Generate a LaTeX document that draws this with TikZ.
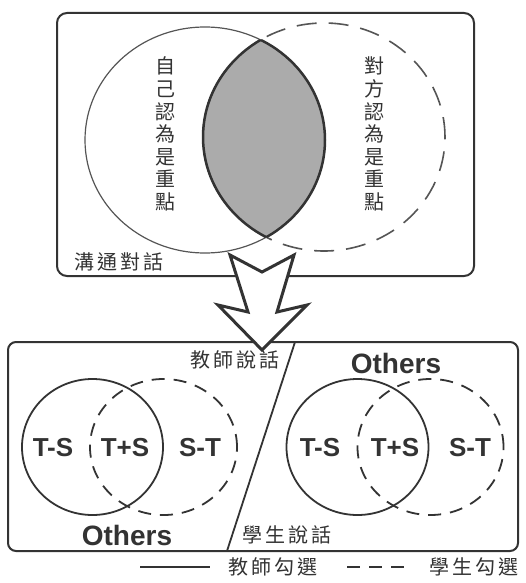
\documentclass[tikz,border=0pt]{standalone}
\usepackage{fontspec}
\setmainfont{Liberation Sans}
\newfontfamily\cjk{Noto Sans CJK TC}
\definecolor{ink}{HTML}{333333}
\definecolor{soft}{HTML}{555555}
\definecolor{lensgray}{HTML}{ABABAB}
\newcommand\gap{\hspace{3pt}}
\begin{document}
\begin{tikzpicture}[x=1pt,y=-1pt,
  box/.style={draw=ink, line width=2pt, rounded corners=10pt},
  tchr/.style={draw=ink, line width=1.8pt},
  stud/.style={draw=ink, line width=1.8pt, dash pattern=on 13pt off 9pt},
  lbl/.style={font=\bfseries\fontsize{26}{26}\selectfont, text=ink, inner sep=0pt},
  oth/.style={font=\bfseries\fontsize{28}{28}\selectfont, text=ink, inner sep=0pt},
  zh/.style={font=\cjk\fontsize{20}{22.6}\selectfont, text=ink, inner sep=0pt, align=center}]
\useasboundingbox (0,0) rectangle (525,583);
\fill[white] (0,0) rectangle (525,583);

% ---- top panel ----
\draw[box] (57,13) rectangle (474,276);
\begin{scope}
  \clip (205,140) ellipse [x radius=120pt, y radius=113pt];
  \fill[lensgray] (324,137) ellipse [x radius=121pt, y radius=114pt];
\end{scope}
\draw[soft, line width=1.2pt] (205,140) ellipse [x radius=120pt, y radius=113pt];
\draw[soft, line width=1.6pt, dash pattern=on 20pt off 12pt] (324,137) ellipse [x radius=121pt, y radius=114pt];
\begin{scope}
  \clip (205,140) ellipse [x radius=120pt, y radius=113pt];
  \draw[ink, line width=2.5pt] (324,137) ellipse [x radius=121pt, y radius=114pt];
\end{scope}
\begin{scope}
  \clip (324,137) ellipse [x radius=121pt, y radius=114pt];
  \draw[ink, line width=2.5pt] (205,140) ellipse [x radius=120pt, y radius=113pt];
\end{scope}
\node[zh] (selfimp) at (165,134) {自\\己\\認\\為\\是\\重\\點};
\node[zh] (otherimp) at (374,134) {對\\方\\認\\為\\是\\重\\點};
\node[zh, anchor=west] (comm) at (74,262) {溝\gap 通\gap 對\gap 話};

% ---- bottom panel ----
\draw[box, rounded corners=8pt] (8,342) rectangle (518,551);
\coordinate (divtop) at (295,342);
\coordinate (divbot) at (227,551);
\draw[tchr] (divtop) -- (divbot);

\draw[tchr] (92.5,447) ellipse [x radius=70.5pt, y radius=68pt];
\draw[stud] (163.5,447) ellipse [x radius=73.5pt, y radius=68pt];
\draw[tchr] (357.5,447) ellipse [x radius=71pt, y radius=68pt];
\draw[stud] (430.5,447) ellipse [x radius=73pt, y radius=68pt];

\node[lbl] (lts) at (53,448) {T-S};
\node[lbl] (lboth) at (125,448) {T+S};
\node[lbl] (lst) at (200,448) {S-T};
\node[oth] (lothers) at (127,535) {Others};
\node[lbl] (rts) at (320,448) {T-S};
\node[lbl] (rboth) at (395,448) {T+S};
\node[lbl] (rst) at (470,448) {S-T};
\node[oth] (rothers) at (396,363) {Others};

\node[zh] (tspeak) at (235,360) {教\gap 師\gap 說\gap 話};
\node[zh] (sspeak) at (287,535) {學\gap 生\gap 說\gap 話};

% ---- arrow ----
\draw[fill=white, draw=ink, line width=3pt, line join=miter]
  (230,255) -- (262,272) -- (294,255) -- (277,312) -- (307,305)
  -- (262,350) -- (218,305) -- (248,312) -- cycle;

% ---- legend ----
\coordinate (lega) at (140,567);
\coordinate (legb) at (210,567);
\coordinate (legc) at (347,567);
\coordinate (legd) at (408,567);
\draw[tchr] (lega) -- (legb);
\draw[stud] (legc) -- (legd);
\node[zh] (tpick) at (273,567) {教\gap 師\gap 勾\gap 選};
\node[zh] (spick) at (474,567) {學\gap 生\gap 勾\gap 選};
\end{tikzpicture}
\end{document}
